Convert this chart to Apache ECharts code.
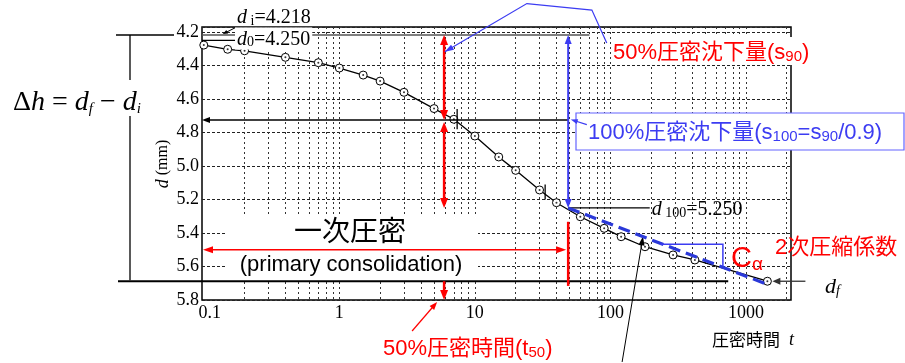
<!DOCTYPE html>
<html>
<head>
<meta charset="utf-8">
<script src="https://cdn.jsdelivr.net/npm/echarts@6/dist/echarts.min.js"></script>
<style>
  html, body { margin: 0; padding: 0; background: #fff; }
  #chart { width: 905px; height: 363px; }
</style>
</head>
<body>
<div id="chart"></div>
<script>
// Elapsed time t (min) and dial reading d (mm) of one load step
const times    = [0.1, 0.15, 0.2, 0.4, 0.7, 1, 1.5, 2, 3, 5, 7, 10, 15, 20, 30, 40, 60, 90, 120, 180, 290, 420, 1440];
const readings = [4.278, 4.303, 4.312, 4.351, 4.383, 4.415, 4.457, 4.493, 4.560, 4.657, 4.721, 4.821, 4.946, 5.026,
                  5.143, 5.219, 5.303, 5.372, 5.422, 5.482, 5.531, 5.561, 5.688];

// Axis ticks
const xTickValues = [0.1, 1, 10, 100, 1000];
const xTickLabels = ['0.1', '1', '10', '100', '1000'];
const yTickValues = [4.2, 4.4, 4.6, 4.8, 5.0, 5.2, 5.4, 5.6, 5.8];
const yTickLabels = ['4.2', '4.4', '4.6', '4.8', '5.0', '5.2', '5.4', '5.6', '5.8'];
// log-paper rulings between the decades
const gridTimes = [0.2, 0.3, 0.4, 0.5, 0.6, 0.7, 0.8, 0.9, 1, 2, 3, 4, 5, 6, 7, 8, 9, 10,
                   20, 30, 40, 50, 60, 70, 80, 90, 100, 200, 300, 400, 500, 600, 700, 800, 900, 1000, 2000];

// Axis extents
const tMin = 0.097, tMax = 2150;
const dTop = 4.17, dBottom = 5.8;

// Characteristic readings and times (Casagrande construction)
const dI = 4.218, d0 = 4.250, d100 = 5.250, dHalf = 4.725;
const t50 = 5.93, t100 = 48.8;
const dF = readings[readings.length - 1];

// Construction lines (t, d)
const dILineEnd = 70;
const d0LineEnd = 0.17;
const d100LineEnd = 195;
const dfLineEnd = 740;
const cAlphaLine = [[t100, d100], [1420, 5.705]];
const cAlphaStep = [[232, 5.467], [676, 5.467], [676, 5.598]];
const pointerLine = [[122, 6.17], [174, 5.42]];
const primaryArrowD = 5.50;
const t100Bar = [5.333, 5.716];
const callout50 = [[6.0, 4.318], [24.2, 4.03], [73, 4.069], [94, 4.265]];
const callout100 = [[67, 4.753], [51, 4.722]];
const diPointer = [[0.17, 4.175], [0.138, 4.212]];
const handTicks = [[[7.4, 4.66], [7.4, 4.78]], [[33, 5.11], [33, 5.20]]];

const serif = "'Liberation Serif','DejaVu Serif',serif";
const sans = "'Liberation Sans','Noto Sans CJK JP',sans-serif";
const cjk = "'Noto Sans CJK JP','Liberation Sans',sans-serif";
const RED = '#ff0000';
const BLUE = '#3c3cf2';

const points = times.map((t, i) => [t, readings[i]]);

const chart = echarts.init(document.getElementById('chart'), null, { renderer: 'canvas' });

chart.setOption({
  animation: false,
  backgroundColor: '#fff',
  grid: { left: 202, right: 114, top: 27, bottom: 63, show: true, borderColor: '#000', borderWidth: 1.5 },
  xAxis: {
    type: 'log', logBase: 10, min: tMin, max: tMax,
    axisLine: { show: false }, axisTick: { show: false }, splitLine: { show: false },
    axisLabel: {
      margin: 4, color: '#000', fontFamily: serif, fontSize: 18,
      formatter: v => {
        const i = xTickValues.findIndex(x => Math.abs(Math.log10(v) - Math.log10(x)) < 1e-6);
        if (i < 0) return '';
        return i === 0 ? '{f|' + xTickLabels[i] + '}' : xTickLabels[i];
      },
      rich: { f: { padding: [0, 0, 0, 12], fontFamily: serif, fontSize: 18, color: '#000' } }
    }
  },
  yAxis: {
    type: 'value', inverse: true, min: dTop, max: dBottom, minInterval: 0.2, maxInterval: 0.2,
    axisLine: { show: false }, axisTick: { show: false },
    splitLine: { show: true, lineStyle: { color: '#222', type: [3, 2], width: 1 } },
    axisLabel: {
      margin: 3, color: '#000', fontFamily: serif, fontSize: 18,
      formatter: v => {
        const i = yTickValues.findIndex(y => Math.abs(y - v) < 1e-6);
        return i < 0 ? '' : yTickLabels[i];
      }
    }
  },
  series: [
    {
      type: 'line', data: [], z: 1,
      markLine: {
        silent: true, symbol: 'none', label: { show: false },
        lineStyle: { color: '#333', type: [2, 3], width: 1 },
        data: gridTimes.map(t => ({ xAxis: t }))
      }
    },
    {
      type: 'line', data: points, z: 6,
      symbol: 'circle', symbolSize: 8,
      itemStyle: { color: '#fff', borderColor: '#000', borderWidth: 1 },
      lineStyle: { color: '#000', width: 1.3 }
    },
    {
      type: 'scatter', data: points, z: 7, symbolSize: 2,
      itemStyle: { color: '#000' }
    }
  ]
});

const P = (t, d) => chart.convertToPixel({ gridIndex: 0 }, [t, d]);
const els = [];

function seg(a, b, stroke, w, z, dash) {
  els.push({ type: 'line', z: z || 10, silent: true,
    shape: { x1: a[0], y1: a[1], x2: b[0], y2: b[1] },
    style: { stroke: stroke, lineWidth: w, lineDash: dash || null } });
}
function head(tip, from, color, len, half, z) {
  const dx = tip[0] - from[0], dy = tip[1] - from[1];
  const L = Math.hypot(dx, dy), ux = dx / L, uy = dy / L;
  const bx = tip[0] - ux * len, by = tip[1] - uy * len;
  els.push({ type: 'polygon', z: z || 11, silent: true,
    shape: { points: [tip, [bx - uy * half, by + ux * half], [bx + uy * half, by - ux * half]] },
    style: { fill: color } });
}
function arrow(a, b, color, w, len, half, both, z) {
  const dx = b[0] - a[0], dy = b[1] - a[1];
  const L = Math.hypot(dx, dy), ux = dx / L, uy = dy / L;
  const s = both ? [a[0] + ux * len * 0.7, a[1] + uy * len * 0.7] : a;
  const e = [b[0] - ux * len * 0.7, b[1] - uy * len * 0.7];
  seg(s, e, color, w, z);
  head(b, a, color, len, half, z);
  if (both) head(a, b, color, len, half, z);
}
function text(x, y, str, rich, opts) {
  els.push(Object.assign({ type: 'text', z: 20, silent: true, x: x, y: y,
    style: Object.assign({ text: str, rich: rich, align: 'left', verticalAlign: 'middle' }, (opts && opts.style) || {}) },
    opts ? { rotation: opts.rotation || 0 } : {}));
}
function box(x, y, w, h, fill, stroke, z) {
  els.push({ type: 'rect', z: z || 8, silent: true, shape: { x: x, y: y, width: w, height: h },
    style: { fill: fill, stroke: stroke || null, lineWidth: stroke ? 1.2 : 0 } });
}

const yI = P(tMin, dI)[1], yF = P(tMin, dF)[1], y0 = P(tMin, d0)[1], yHalf = P(tMin, dHalf)[1];
const x50 = P(t50, dI)[0], x100 = P(t100, dI)[0];
const xLeft = P(tMin, dI)[0];
const plotBottom = P(tMin, dBottom)[1];

// Δh bracket on the left
seg([116, yI], [174, yI], '#000', 1.5);
seg([130, yI], [130, 80], '#000', 1.3);
seg([130, 116], [130, yF - 1], '#000', 1.3);
seg([118, yF], [P(dfLineEnd, dF)[0], yF], '#000', 2);
text(13, 101, '{n|Δ}{it|h}{n| = }{it|d}{sub|f}{n| − }{it|d}{sub|i}', {
  n:   { fontFamily: serif, fontSize: 28, fill: '#000', verticalAlign: 'bottom', lineHeight: 32 },
  it:  { fontFamily: serif, fontSize: 28, fontStyle: 'italic', fill: '#000', verticalAlign: 'bottom', lineHeight: 32 },
  sub: { fontFamily: serif, fontSize: 15, fontStyle: 'italic', fill: '#000', verticalAlign: 'bottom', lineHeight: 12 }
});

// d_i and d_0 reference lines
seg([xLeft, yI], [P(dILineEnd, dI)[0], yI], '#555', 1.5, 9);
seg([xLeft, y0], [P(d0LineEnd, d0)[0], y0], '#000', 1.2, 9);
arrow(P(...diPointer[0]), P(...diPointer[1]), '#000', 1, 5, 2);
const serifRich = {
  n:   { fontFamily: serif, fontSize: 20, fill: '#000', verticalAlign: 'bottom', lineHeight: 22 },
  it:  { fontFamily: serif, fontSize: 20, fontStyle: 'italic', fill: '#000', verticalAlign: 'bottom', lineHeight: 22 },
  sub: { fontFamily: serif, fontSize: 14, fill: '#000', verticalAlign: 'bottom', lineHeight: 10 }
};
text(237, 17, '{it|d}{sub| i}{n|=4.218}', serifRich);
text(235, y0 - 2, '{it|d}{sub|0}{n|=4.250}', serifRich, { style: { backgroundColor: '#fff', padding: [0, 2, 0, 2] } });

// t50 construction (red)
arrow([x50, P(t50, dHalf)[1]], [x50, yI], RED, 2.5, 10, 4, true);
arrow([x50, P(t50, dHalf)[1] + 2], [x50, P(t50, d100)[1]], RED, 2.5, 10, 4, true);
arrow([x50, yF], [x50, plotBottom], RED, 2.5, 10, 4, false);

// half-settlement line (black)
arrow([x100, yHalf], [xLeft, yHalf], '#000', 1.5, 8, 3, false);

// t100 construction (blue + red)
arrow([x100, P(t100, d100)[1]], [x100, yI], BLUE, 2, 9, 3.5, true);
seg([x100, P(t100, t100Bar[0])[1]], [x100, P(t100, t100Bar[1])[1]], RED, 2.5, 10);

// primary consolidation span
box(227, 215, 251, 64, '#fff', null, 8);
arrow([x100 - 2, P(t100, primaryArrowD)[1]], [xLeft + 1, P(t100, primaryArrowD)[1]], RED, 1.5, 10, 3.5, true);
text(350, 230, '一次圧密', null, { style: { fontFamily: cjk, fontSize: 28, fill: '#000', align: 'center' } });
text(351, 265, '(primary consolidation)', null, { style: { fontFamily: sans, fontSize: 22, fill: '#000', align: 'center' } });

// d100 line and label
const p100 = P(t100, d100);
seg(p100, P(d100LineEnd, d100), '#000', 1.3);
text(P(d100LineEnd, d100)[0] + 2, p100[1] + 1, '{it|d}{sub| 100}{n|=5.250}', serifRich);

// secondary compression slope
seg(P(...cAlphaLine[0]), P(...cAlphaLine[1]), '#2a38d8', 3.2, 12, [12, 6]);
els.push({ type: 'polyline', z: 12, silent: true, shape: { points: cAlphaStep.map(p => P(...p)) },
  style: { stroke: BLUE, lineWidth: 1.5, fill: null } });
text(731, 258, '{c|C}{a|α}', {
  c: { fontFamily: sans, fontSize: 29, fill: RED, verticalAlign: 'bottom', lineHeight: 32 },
  a: { fontFamily: sans, fontSize: 19, fill: RED, verticalAlign: 'bottom', lineHeight: 14 }
});
text(775, 248, '2次圧縮係数', null, { style: { fontFamily: sans, fontSize: 22, fill: RED } });

// d_f pointer
const pLast = P(times[times.length - 1], dF);
arrow([pLast[0] + 38, pLast[1]], [pLast[0] + 5, pLast[1]], '#333', 1.3, 8, 3.5, false);
text(825, 286, '{it|d}{sub|f}', {
  it:  { fontFamily: serif, fontSize: 22, fontStyle: 'italic', fill: '#000', verticalAlign: 'bottom', lineHeight: 24 },
  sub: { fontFamily: serif, fontSize: 14, fontStyle: 'italic', fill: '#000', verticalAlign: 'bottom', lineHeight: 10 }
});

// pointer to the slope from below
arrow(P(...pointerLine[0]), P(...pointerLine[1]), '#000', 1, 9, 3, false);

// hand-drawn ticks on the curve
handTicks.forEach(h => seg(P(...h[0]), P(...h[1]), '#000', 1.3, 9));

// s90 callout
const c50 = callout50.map(p => P(...p));
els.push({ type: 'polyline', z: 13, silent: true, shape: { points: c50 }, style: { stroke: BLUE, lineWidth: 1.2, fill: null } });
head(c50[0], c50[1], BLUE, 9, 3, 13);
text(611, 51, '{a|50%圧密沈下量(s}{b|90}{a|)}', {
  a: { fontFamily: sans, fontSize: 22, fill: RED, verticalAlign: 'bottom', lineHeight: 26 },
  b: { fontFamily: sans, fontSize: 15, fill: RED, verticalAlign: 'bottom', lineHeight: 12 }
}, { style: { backgroundColor: '#fff', padding: [1, 2, 1, 2] } });

// s100 callout
box(576, 113, 328, 37, '#fff', '#6464ff', 14);
text(588, 131, '{a|100%圧密沈下量(s}{b|100}{a|=s}{b|90}{a|/0.9)}', {
  a: { fontFamily: sans, fontSize: 22, fill: BLUE, verticalAlign: 'bottom', lineHeight: 26 },
  b: { fontFamily: sans, fontSize: 15, fill: BLUE, verticalAlign: 'bottom', lineHeight: 12 }
});
arrow(P(...callout100[0]), P(...callout100[1]), BLUE, 1.2, 7, 2.5, false, 15);

// time labels below the axis
const tip50 = [x50 - 7, plotBottom + 2];
arrow([tip50[0] - 25, tip50[1] + 29], tip50, RED, 1.2, 8, 3, false);
text(383, 347, '{a|50%圧密時間(t}{b|50}{a|)}', {
  a: { fontFamily: sans, fontSize: 22, fill: RED, verticalAlign: 'bottom', lineHeight: 26 },
  b: { fontFamily: sans, fontSize: 15, fill: RED, verticalAlign: 'bottom', lineHeight: 12 }
});
text(712, 340, '{c|圧密時間}{t|  t}', {
  c: { fontFamily: cjk, fontSize: 17, fill: '#000' },
  t: { fontFamily: serif, fontSize: 18, fontStyle: 'italic', fill: '#000' }
});

// y axis title
text(163, 164, '{it|d}{n| (mm)}', {
  it: { fontFamily: serif, fontSize: 18, fontStyle: 'italic', fill: '#000' },
  n:  { fontFamily: serif, fontSize: 16, fill: '#000' }
}, { rotation: Math.PI / 2, style: { align: 'center' } });

chart.setOption({ graphic: els });
</script>
</body>
</html>
